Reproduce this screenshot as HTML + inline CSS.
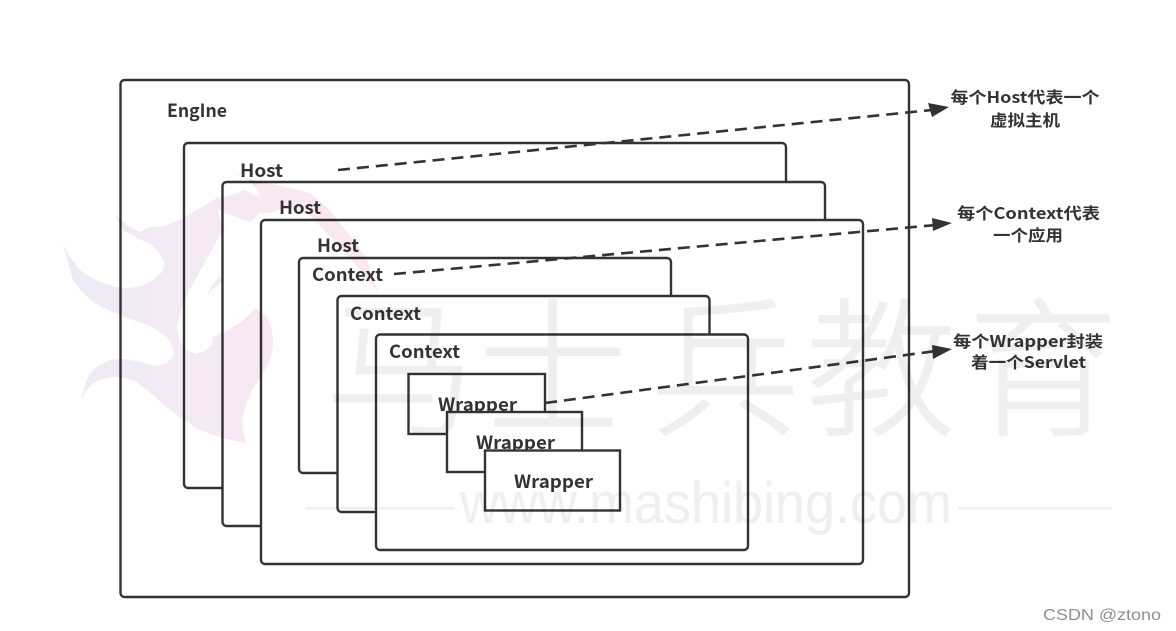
<!DOCTYPE html>
<html><head><meta charset="utf-8">
<style>
html,body{margin:0;padding:0;background:#fff;width:1176px;height:631px;overflow:hidden}
svg{display:block;filter:blur(.35px)}
.b{fill:#fff;stroke:#333;stroke-width:2.4}
.t{font-family:"Noto Sans CJK SC","Liberation Sans",sans-serif;font-weight:700;font-size:18px;fill:#333}
.c{font-family:"Noto Sans CJK SC","Liberation Sans",sans-serif;font-weight:700;font-size:16px;fill:#333;text-anchor:middle}
.d{stroke:#333;stroke-width:2.6;stroke-dasharray:12 7;fill:none}
.w{font-family:"Noto Sans CJK SC",sans-serif;font-weight:300;font-size:150px;fill:#efefef;stroke:#efefef;stroke-width:1.5}
</style></head><body>
<svg width="1176" height="631" viewBox="0 0 1176 631" xmlns="http://www.w3.org/2000/svg">
<defs><linearGradient id="g" gradientUnits="userSpaceOnUse" x1="63" x2="378" y1="0" y2="0"><stop offset="0" stop-color="#ecebf5"/><stop offset=".4" stop-color="#f4eaf4"/><stop offset=".7" stop-color="#f8e8f2"/><stop offset="1" stop-color="#fbe8ee"/></linearGradient></defs>
<rect class="b" x="120.5" y="80" width="788.5" height="517" rx="4"/>
<rect class="b" x="184" y="143" width="602" height="345" rx="4"/>
<rect class="b" x="222.500" y="182" width="602.500" height="344" rx="4"/>
<rect class="b" x="261" y="220" width="602" height="344" rx="4"/>
<rect class="b" x="299" y="258" width="372" height="215" rx="4"/>
<rect class="b" x="337.500" y="296" width="372" height="216" rx="4"/>
<rect class="b" x="376" y="334.500" width="372" height="215.500" rx="4"/>
<text class="t" x="167" y="117" textLength="60" lengthAdjust="spacingAndGlyphs">EngIne</text>
<text class="t" x="240" y="177" textLength="43" lengthAdjust="spacingAndGlyphs">Host</text>
<text class="t" x="279" y="214" textLength="42" lengthAdjust="spacingAndGlyphs">Host</text>
<text class="t" x="317" y="252" textLength="42" lengthAdjust="spacingAndGlyphs">Host</text>
<text class="t" x="312" y="281" textLength="71" lengthAdjust="spacingAndGlyphs">Context</text>
<text class="t" x="350" y="320" textLength="71" lengthAdjust="spacingAndGlyphs">Context</text>
<text class="t" x="389" y="358" textLength="71" lengthAdjust="spacingAndGlyphs">Context</text>
<rect class="b" x="408.500" y="374" width="136.500" height="60"/>
<text class="t" x="438" y="411" textLength="79" lengthAdjust="spacingAndGlyphs">Wrapper</text>
<rect class="b" x="447" y="412" width="135" height="60"/>
<text class="t" x="476" y="449" textLength="79" lengthAdjust="spacingAndGlyphs">Wrapper</text>
<rect class="b" x="485" y="450.500" width="135" height="60"/>
<text class="t" x="514" y="488" textLength="79" lengthAdjust="spacingAndGlyphs">Wrapper</text>
<path class="d" d="M338 170L932 110"/>
<path fill="#333" d="M949 107L928 103L932 117Z"/>
<path class="d" d="M394 274L936 225"/>
<path fill="#333" d="M952 223L932 218L933 231Z"/>
<path class="d" d="M545 403L936 351"/>
<path fill="#333" d="M952 349L932 345L933 359Z"/>
<text class="c" x="1025" y="103" textLength="149" lengthAdjust="spacingAndGlyphs">每个Host代表一个</text>
<text class="c" x="1025" y="126" textLength="70" lengthAdjust="spacingAndGlyphs">虚拟主机</text>
<text class="c" x="1028.500" y="219" textLength="143" lengthAdjust="spacingAndGlyphs">每个Context代表</text>
<text class="c" x="1028" y="241" textLength="70" lengthAdjust="spacingAndGlyphs">一个应用</text>
<text class="c" x="1028" y="347" textLength="150" lengthAdjust="spacingAndGlyphs">每个Wrapper封装</text>
<text class="c" x="1028.500" y="368" textLength="115" lengthAdjust="spacingAndGlyphs">着一个Servlet</text>
<g style="mix-blend-mode:multiply" fill="url(#g)">
<path stroke-linejoin="round" d="M63 244L68 262L73 280L82 292L93 302L110 311L127 318L145 324L157 330L168 338L173 347L174 353L172 358L166 363L158 366L148 364L137 361L122 359L110 360L99 365L90 373L85 385L81 400L86 391L93 383L102 379L113 377L125 378L137 382L153 395L170 410L185 421L200 430L222 438L246 443L243 430L242 420L246 405L252 390L262 375L270 360L273 348L273 337L271 326L267 317L255 308L245 319L233 327L222 333L213 337L212 345L205 351L195 354L187 350L180 342L177 327L181 310L188 293L203 266L217 240L225 230L220 218L217 208L225 213L235 217L250 222L260 213L270 213L265 200L255 195L245 190L232 195L217 198L200 208L183 218L165 226L150 227L140 232L128 226L115 215L123 230L137 238L150 244L157 250L165 263L162 272L153 280L142 286L130 288L116 287L103 283L90 277L80 270L70 257Z"/>
<path d="M233 173L253 180L285 187L310 193L328 208L343 227L357 244L367 260L378 292L360 270L340 247L322 228L307 213L287 207L270 213L262 205L258 190L248 180Z"/>
<path d="M207 295L212 285L220 275L222 282L214 288Z"/>
</g>
<g style="mix-blend-mode:multiply">
<text class="w" x="325" y="424">马</text>
<text class="w" x="478" y="424">士</text>
<text class="w" x="650" y="424">兵</text>
<text class="w" x="806" y="424">教</text>
<text class="w" x="968" y="424">育</text>
<text x="460" y="523" textLength="492" lengthAdjust="spacingAndGlyphs" style="font-family:'Liberation Sans',sans-serif;font-size:58px;fill:#efefef">www.mashibing.com</text>
<rect x="305" y="507" width="150" height="2.500" fill="#efefef"/>
<rect x="958" y="507" width="154" height="2.500" fill="#efefef"/>
</g>
<text x="1043" y="620" textLength="118" lengthAdjust="spacingAndGlyphs" style="font-family:'Liberation Sans',sans-serif;font-size:16px;fill:#8f8f8f">CSDN @ztono</text>
</svg>
</body></html>
